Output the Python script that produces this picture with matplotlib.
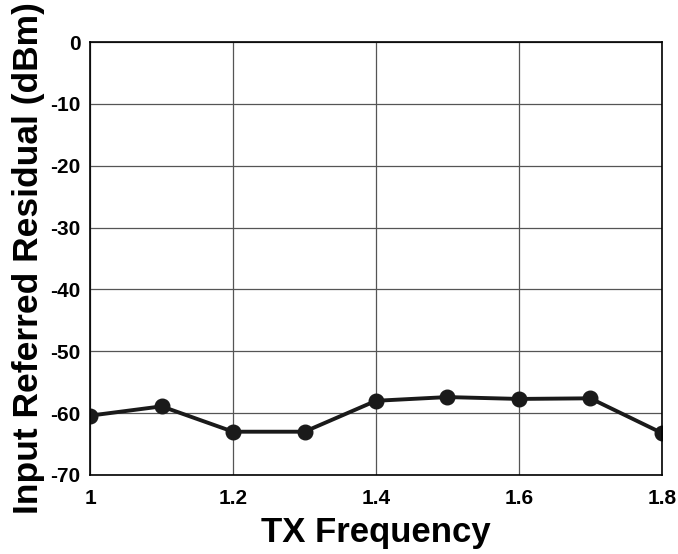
import matplotlib
matplotlib.use("Agg")
from matplotlib import pyplot
import numpy

# DATA
freq = [1.0, 1.1, 1.2, 1.3, 1.4, 1.5, 1.6, 1.7, 1.8]
residual = [-60.4, -58.9, -63.0, -63.0, -58.0, -57.4, -57.7, -57.6, -63.2]
xticks = [1.0, 1.2, 1.4, 1.6, 1.8]
xticklabels = ["1", "1.2", "1.4", "1.6", "1.8"]
yticks = [0, -10, -20, -30, -40, -50, -60, -70]

pyplot.rcParams['font.family'] = ['Liberation Sans', 'DejaVu Sans']
pyplot.rcParams['font.weight'] = 'bold'
pyplot.rcParams['axes.unicode_minus'] = False

canvas = pyplot.figure(figsize=(6.78, 5.54), dpi=100)
axes = canvas.add_axes([0.133, 0.1426, 0.843, 0.7814])

axes.plot(freq, residual, color='#1a1a1a', lw=2.8, marker='o', markersize=10.5)

axes.set_xlim([1.0, 1.8])
axes.set_ylim([-70, 0])
axes.set_xticks(xticks)
axes.set_xticklabels(xticklabels)
axes.set_yticks(yticks)
axes.grid(True, color='#555555', lw=0.9)
axes.tick_params(length=0, labelsize=15)
axes.tick_params(axis='x', pad=10)
axes.tick_params(axis='y', pad=7)
for lbl in axes.get_xticklabels() + axes.get_yticklabels():
    lbl.set_fontweight('bold')
for s in axes.spines.values():
    s.set_linewidth(1.2)

axes.set_xlabel("TX Frequency", fontsize=25, fontweight='bold', labelpad=6)
axes.set_ylabel("Input Referred Residual (dBm)", fontsize=25.5, fontweight='bold', labelpad=4)

canvas.savefig("out.png", dpi=100)
